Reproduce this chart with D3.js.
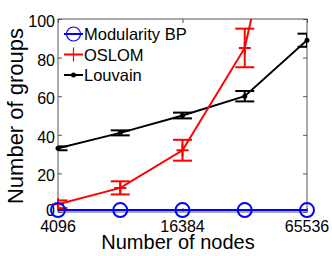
<!DOCTYPE html>
<html>
<head>
<meta charset="utf-8">
<script src="https://cdn.jsdelivr.net/npm/d3@7"></script>
<style>
body { margin: 0; background: #fff; }
text { font-family: 'Liberation Sans', Arial, sans-serif; }
</style>
</head>
<body>
<div id="chart"></div>
<script>
const nodes = [4096, 8192, 16384, 32768, 65536];
const bpMean = [1, 1, 1, 1, 1];
const oslomMean = [4, 12.5, 32, 85, 230];
const oslomErr = [2, 3.4, 5.4, 10, 20];
const louvainMean = [33, 41, 50, 60, 89];
const louvainErr = [1, 1.3, 1.5, 2.7, 3.4];
const xTicks = [4096, 16384, 65536];
const yTicks = [0, 20, 40, 60, 80, 100];

const svgWidth = 332;
const svgHeight = 256;
const margin = { top: 19, left: 58, bottom: 44, right: 25 };

const svg = d3
    .select('#chart')
    .append('svg')
    .attr('width', svgWidth)
    .attr('height', svgHeight);

const x = d3
    .scaleLog()
    .base(2)
    .domain([4096, 65536])
    .range([margin.left, svgWidth - margin.right]);

const y = d3
    .scaleLinear()
    .domain([0, 100])
    .range([svgHeight - margin.bottom, margin.top]);

svg.append('clipPath')
    .attr('id', 'clip')
    .append('rect')
    .attr('x', margin.left)
    .attr('y', margin.top)
    .attr('width', x.range()[1] - margin.left)
    .attr('height', y.range()[0] - margin.top);

// box
svg.append('rect')
    .attr('x', margin.left)
    .attr('y', margin.top)
    .attr('width', x.range()[1] - margin.left)
    .attr('height', y.range()[0] - margin.top)
    .attr('fill', 'none')
    .attr('stroke', '#555')
    .attr('stroke-width', 1);

svg.append('g')
    .attr('transform', `translate(${margin.left}, 0)`)
    .call(d3.axisRight(y).tickValues(yTicks).tickSize(4).tickFormat(''));
svg.append('g')
    .attr('transform', `translate(${x.range()[1]}, 0)`)
    .call(d3.axisLeft(y).tickValues(yTicks).tickSize(4).tickFormat(''));
svg.append('g')
    .attr('transform', `translate(0, ${y.range()[0]})`)
    .call(d3.axisTop(x).tickValues(xTicks).tickSize(4).tickFormat(''));
svg.append('g')
    .attr('transform', `translate(0, ${margin.top})`)
    .call(d3.axisBottom(x).tickValues(xTicks).tickSize(4).tickFormat(''));
svg.selectAll('.domain').remove();
svg.selectAll('.tick line').attr('stroke', '#555');

svg.selectAll('.ylab')
    .data(yTicks)
    .enter()
    .append('text')
    .attr('class', 'ylab')
    .attr('x', margin.left - 3)
    .attr('y', d => y(d) + (d === 0 ? 4 : 8))
    .attr('text-anchor', 'end')
    .attr('font-size', 16)
    .text(d => d);

svg.selectAll('.xlab')
    .data(xTicks)
    .enter()
    .append('text')
    .attr('class', 'xlab')
    .attr('x', d => x(d))
    .attr('y', y.range()[0] + 20)
    .attr('text-anchor', 'middle')
    .attr('font-size', 16)
    .text(d => d);

svg.append('text')
    .attr('x', 178)
    .attr('y', 249)
    .attr('text-anchor', 'middle')
    .attr('font-size', 20)
    .text('Number of nodes');

svg.append('text')
    .attr('transform', `translate(23, 116) rotate(-90)`)
    .attr('text-anchor', 'middle')
    .attr('font-size', 22)
    .text('Number of groups');

const series = [
    { name: 'Modularity BP', mean: bpMean, err: null, color: '#0000ff', marker: 'circle' },
    { name: 'OSLOM', mean: oslomMean, err: oslomErr, color: '#ff0000', marker: 'plus' },
    { name: 'Louvain', mean: louvainMean, err: louvainErr, color: '#000000', marker: 'dot' }
];

const line = d3.line().x((d, i) => x(nodes[i])).y(d => y(d));
const cap = 9.5;

// draw in reverse so BP sits on top
series.slice().reverse().forEach(s => {
    const g = svg.append('g');
    const clipped = g.append('g').attr('clip-path', 'url(#clip)');
    clipped.append('path')
        .attr('d', line(s.mean))
        .attr('fill', 'none')
        .attr('stroke', s.color)
        .attr('stroke-width', 2);
    if (s.err) {
        const eb = clipped.selectAll('g.eb')
            .data(s.mean)
            .enter()
            .append('g')
            .attr('class', 'eb')
            .attr('stroke', s.color)
            .attr('stroke-width', 2);
        eb.append('line')
            .attr('x1', (d, i) => x(nodes[i]))
            .attr('x2', (d, i) => x(nodes[i]))
            .attr('y1', (d, i) => y(d - s.err[i]))
            .attr('y2', (d, i) => y(d + s.err[i]));
        eb.append('line')
            .attr('x1', (d, i) => x(nodes[i]) - cap)
            .attr('x2', (d, i) => x(nodes[i]) + cap)
            .attr('y1', (d, i) => y(d - s.err[i]))
            .attr('y2', (d, i) => y(d - s.err[i]));
        eb.append('line')
            .attr('x1', (d, i) => x(nodes[i]) - cap)
            .attr('x2', (d, i) => x(nodes[i]) + cap)
            .attr('y1', (d, i) => y(d + s.err[i]))
            .attr('y2', (d, i) => y(d + s.err[i]));
    }
    const pts = s.mean.map((d, i) => [x(nodes[i]), y(d)]).filter(p => p[1] >= margin.top);
    if (s.marker === 'circle') {
        g.selectAll('circle')
            .data(pts)
            .enter()
            .append('circle')
            .attr('cx', d => d[0])
            .attr('cy', d => d[1])
            .attr('r', 7)
            .attr('fill', 'none')
            .attr('stroke', s.color)
            .attr('stroke-width', 2);
    } else if (s.marker === 'plus') {
        g.selectAll('path.m')
            .data(pts)
            .enter()
            .append('path')
            .attr('class', 'm')
            .attr('d', d => `M${d[0] - 6},${d[1]}H${d[0] + 6}M${d[0]},${d[1] - 6}V${d[1] + 6}`)
            .attr('stroke', s.color)
            .attr('stroke-width', 2);
    } else {
        g.selectAll('circle')
            .data(pts)
            .enter()
            .append('circle')
            .attr('cx', d => d[0])
            .attr('cy', d => d[1])
            .attr('r', 2.5)
            .attr('fill', s.color);
    }
});

// legend
const legend = svg.append('g');
series.forEach((s, i) => {
    const ly = 34 + i * 20.5;
    const lg = legend.append('g');
    lg.append('line')
        .attr('x1', 64).attr('x2', 83)
        .attr('y1', ly).attr('y2', ly)
        .attr('stroke', s.color)
        .attr('stroke-width', 2);
    if (s.marker === 'circle') {
        lg.append('circle').attr('cx', 73.5).attr('cy', ly).attr('r', 7)
            .attr('fill', 'none').attr('stroke', s.color).attr('stroke-width', 1.2);
    } else if (s.marker === 'plus') {
        lg.append('line').attr('x1', 73.5).attr('x2', 73.5)
            .attr('y1', ly - 7).attr('y2', ly + 7)
            .attr('stroke', s.color).attr('stroke-width', 1.2);
    } else {
        lg.append('circle').attr('cx', 73.5).attr('cy', ly).attr('r', 2.5).attr('fill', s.color);
    }
    lg.append('text')
        .attr('x', 84)
        .attr('y', ly + 6)
        .attr('font-size', 16.5)
        .text(s.name);
});
</script>
</body>
</html>
